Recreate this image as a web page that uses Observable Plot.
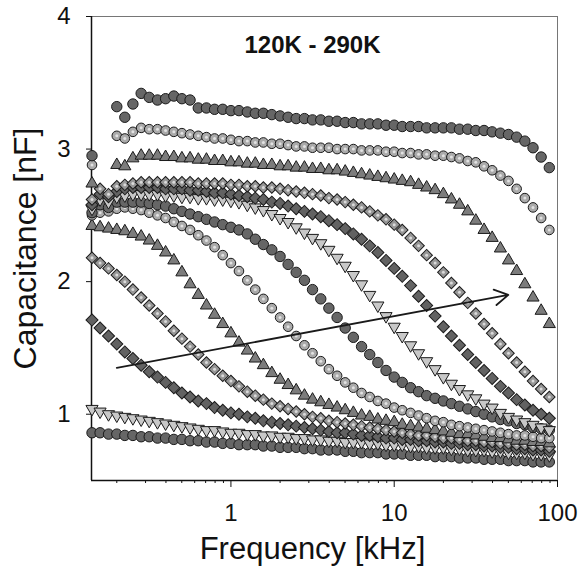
<!DOCTYPE html>
<html><head><meta charset="utf-8">
<script src="https://cdn.jsdelivr.net/npm/d3@7"></script>
<script src="https://cdn.jsdelivr.net/npm/@observablehq/plot@0.6"></script>
<style>body{margin:0;background:#fff}</style>
</head><body><div id="chart"></div>
<script>
// Frequency points (kHz), shared by all curves
const freq = [0.141,0.158,0.178,0.2,0.224,0.251,0.282,0.316,0.355,0.398,0.447,0.501,0.562,0.631,0.708,0.794,0.891,
  1,1.12,1.26,1.41,1.58,1.78,2,2.24,2.51,2.82,3.16,3.55,3.98,4.47,5.01,5.62,6.31,7.08,7.94,8.91,
  10,11.2,12.6,14.1,15.8,17.8,20,22.4,25.1,28.2,31.6,35.5,39.8,44.7,50.1,56.2,63.1,70.8,79.4,89.1];

// Capacitance (nF) of each curve (highest temperature first)
const capA = [2.95,null,null,3.32,3.24,3.34,3.42,3.39,3.37,3.38, 3.40,3.38,3.37,3.31,3.31,3.30,3.30,3.29,3.29,3.28, 3.27,3.27,3.26,3.25,3.24,3.23,3.23,3.22,3.22,3.21, 3.21,3.20,3.20,3.19,3.19,3.19,3.18,3.18,3.17,3.17, 3.17,3.16,3.16,3.16,3.16,3.15,3.15,3.14,3.14,3.13, 3.12,3.11,3.09,3.06,3.01,2.94,2.86];
const capB = [2.88,null,null,3.10,3.08,3.13,3.16,3.15,3.15,3.14, 3.13,3.12,3.11,3.10,3.09,3.08,3.08,3.07,3.06,3.06, 3.05,3.05,3.04,3.04,3.03,3.02,3.02,3.01,3.01,3.01, 3.00,3.00,3.00,2.99,2.99,2.99,2.98,2.98,2.97,2.97, 2.96,2.96,2.95,2.95,2.94,2.93,2.91,2.90,2.87,2.84, 2.80,2.76,2.70,2.63,2.56,2.48,2.39];
const capC = [2.74,null,null,2.88,2.87,2.93,2.95,2.95,2.95,2.94, 2.94,2.93,2.93,2.92,2.92,2.91,2.91,2.90,2.90,2.89, 2.89,2.88,2.88,2.87,2.87,2.86,2.86,2.85,2.85,2.84, 2.84,2.83,2.82,2.81,2.80,2.79,2.78,2.77,2.76,2.75, 2.73,2.71,2.69,2.66,2.62,2.58,2.53,2.46,2.39,2.33, 2.25,2.16,2.08,1.98,1.88,1.78,1.68];
const capE = [2.62,2.70,2.66,2.72,2.73,2.74,2.75,2.75,2.75,2.75, 2.75,2.75,2.75,2.74,2.74,2.74,2.74,2.73,2.73,2.72, 2.72,2.71,2.71,2.70,2.69,2.68,2.67,2.66,2.65,2.63, 2.62,2.60,2.58,2.56,2.53,2.50,2.47,2.43,2.39,2.33, 2.27,2.20,2.14,2.07,1.99,1.92,1.84,1.76,1.68,1.61, 1.53,1.46,1.39,1.32,1.25,1.19,1.13];
const capF = [2.58,2.66,2.64,2.68,2.70,2.71,2.71,2.71,2.71,2.70, 2.70,2.70,2.69,2.69,2.68,2.67,2.67,2.66,2.65,2.64, 2.63,2.62,2.60,2.59,2.57,2.55,2.53,2.51,2.49,2.46, 2.43,2.40,2.36,2.32,2.27,2.22,2.16,2.10,2.04,1.97, 1.89,1.82,1.74,1.66,1.59,1.52,1.45,1.39,1.33,1.27, 1.21,1.16,1.11,1.07,1.03,1.00,0.97];
const capG = [2.55,2.62,2.60,2.64,2.65,2.66,2.66,2.66,2.66,2.65, 2.65,2.64,2.64,2.63,2.63,2.62,2.62,2.61,2.60,2.58, 2.56,2.54,2.51,2.48,2.45,2.41,2.37,2.33,2.29,2.24, 2.18,2.12,2.05,1.98,1.90,1.82,1.74,1.66,1.59,1.52, 1.46,1.40,1.34,1.28,1.23,1.19,1.15,1.12,1.08,1.05, 1.01,0.98,0.96,0.94,0.92,0.90,0.88];
const capD = [2.52,2.58,2.56,2.60,2.60,2.60,2.60,2.59,2.58,2.57, 2.55,2.53,2.51,2.49,2.47,2.45,2.43,2.41,2.39,2.36, 2.32,2.28,2.24,2.19,2.13,2.07,2.01,1.94,1.87,1.80, 1.73,1.65,1.58,1.51,1.45,1.39,1.33,1.28,1.24,1.20, 1.17,1.14,1.12,1.10,1.08,1.06,1.04,1.02,1.00,0.98, 0.96,0.95,0.93,0.92,0.90,0.89,0.88];
const capH = [2.50,2.52,2.53,2.55,2.56,2.55,2.54,2.52,2.50,2.48, 2.45,2.42,2.39,2.35,2.31,2.26,2.20,2.14,2.08,2.01, 1.94,1.87,1.80,1.73,1.66,1.59,1.52,1.46,1.40,1.34, 1.29,1.24,1.20,1.16,1.13,1.10,1.08,1.05,1.03,1.01, 0.99,0.97,0.95,0.94,0.92,0.91,0.90,0.89,0.88,0.87, 0.86,0.85,0.84,0.84,0.83,0.82,0.82];
const capI = [2.42,2.41,2.40,2.39,2.38,2.36,2.34,2.31,2.27,2.22, 2.16,2.07,1.98,1.90,1.82,1.75,1.68,1.61,1.54,1.48, 1.42,1.37,1.31,1.26,1.22,1.18,1.14,1.11,1.09,1.07, 1.05,1.03,1.01,0.99,0.98,0.96,0.95,0.94,0.92,0.91, 0.90,0.89,0.88,0.87,0.86,0.85,0.85,0.84,0.83,0.82, 0.82,0.81,0.80,0.80,0.79,0.79,0.78];
const capJ = [2.18,2.14,2.10,2.05,2.00,1.94,1.88,1.82,1.76,1.70, 1.63,1.57,1.51,1.45,1.39,1.34,1.29,1.25,1.21,1.17, 1.14,1.11,1.08,1.06,1.04,1.02,1.00,0.98,0.97,0.95, 0.94,0.93,0.92,0.91,0.90,0.89,0.88,0.87,0.86,0.85, 0.84,0.84,0.83,0.82,0.82,0.81,0.80,0.80,0.79,0.79, 0.78,0.78,0.77,0.77,0.76,0.76,0.75];
const capK = [1.71,1.65,1.59,1.53,1.47,1.42,1.37,1.32,1.28,1.24, 1.20,1.16,1.13,1.10,1.08,1.05,1.03,1.01,1.00,0.98, 0.97,0.95,0.94,0.93,0.92,0.91,0.90,0.89,0.88,0.87, 0.86,0.86,0.85,0.84,0.84,0.83,0.82,0.82,0.81,0.81, 0.80,0.80,0.79,0.79,0.78,0.78,0.77,0.77,0.76,0.76, 0.75,0.75,0.74,0.74,0.73,0.73,0.72];
const capL = [1.04,1.02,1.00,0.99,0.98,0.97,0.96,0.95,0.94,0.93, 0.92,0.91,0.90,0.89,0.88,0.88,0.87,0.86,0.86,0.85, 0.85,0.84,0.84,0.83,0.83,0.82,0.82,0.81,0.81,0.80, 0.80,0.79,0.79,0.79,0.78,0.78,0.77,0.77,0.77,0.76, 0.76,0.75,0.75,0.75,0.74,0.74,0.73,0.73,0.73,0.72, 0.72,0.71,0.71,0.71,0.70,0.70,0.69];
const capM = [0.86,0.86,0.85,0.85,0.84,0.84,0.83,0.83,0.82,0.82, 0.81,0.81,0.80,0.80,0.79,0.79,0.78,0.78,0.77,0.77, 0.77,0.76,0.76,0.75,0.75,0.75,0.74,0.74,0.73,0.73, 0.73,0.72,0.72,0.71,0.71,0.71,0.70,0.70,0.70,0.69, 0.69,0.69,0.68,0.68,0.68,0.67,0.67,0.67,0.66,0.66, 0.66,0.65,0.65,0.65,0.64,0.64,0.64];

// Text and ticks
const titleText = "120K - 290K";
const xLabel = "Frequency [kHz]";
const yLabel = "Capacitance [nF]";
const xMajorTicks = [1, 10, 100];
const xMinorTicks = [0.2,0.3,0.4,0.5,0.6,0.7,0.8,0.9,2,3,4,5,6,7,8,9,20,30,40,50,60,70,80,90];
const yTicks = [1, 2, 3, 4];
const arrowData = [{x1: 0.2, y1: 1.35, x2: 50, y2: 1.9}];

// Marker styles
const styles = {
  darkCircle:   {symbol: "circle",   r: 5.2, fill: "#666666"},
  patCircle:    {symbol: "circle",   r: 4.8, fill: "#aaaaaa", inner: "#e2e2e2"},
  triangleUp:   {symbol: "triangle", r: 4.5, fill: "#7c7c7c", rotate: 0},
  triangleDown: {symbol: "triangle", r: 4.5, fill: "#c8c8c8", rotate: 180},
  darkDiamond:  {symbol: "square",   r: 4.8, fill: "#626262", rotate: 45},
  patDiamond:   {symbol: "square",   r: 4.6, fill: "#969696", rotate: 45, inner: "#dadada"}
};

const seriesList = [
  {values: capM, style: "darkCircle"},
  {values: capL, style: "triangleDown"},
  {values: capK, style: "darkDiamond"},
  {values: capJ, style: "patDiamond"},
  {values: capI, style: "triangleUp"},
  {values: capH, style: "patCircle"},
  {values: capD, style: "darkCircle"},
  {values: capG, style: "triangleDown"},
  {values: capF, style: "darkDiamond"},
  {values: capE, style: "patDiamond"},
  {values: capC, style: "triangleUp"},
  {values: capB, style: "patCircle"},
  {values: capA, style: "darkCircle"}
];

const marks = [];
for (const s of seriesList) {
  const st = styles[s.style];
  const pts = s.values.map((c, i) => ({f: freq[i], c})).filter(d => d.c != null);
  marks.push(Plot.dot(pts, {x: "f", y: "c", symbol: st.symbol, r: st.r, fill: st.fill,
    stroke: "#1a1a1a", strokeWidth: 1, rotate: st.rotate || 0}));
  if (st.inner) marks.push(Plot.dot(pts, {x: "f", y: "c", r: 1.5, fill: st.inner}));
}

const chart = Plot.plot({
  width: 580, height: 571,
  marginLeft: 91, marginRight: 23, marginTop: 16, marginBottom: 91,
  style: {fontFamily: "'Liberation Sans', Arial, sans-serif", fontSize: "24px", color: "#111", background: "#fff"},
  x: {type: "log", domain: [0.14, 100], label: null},
  y: {domain: [0.5, 4], label: null},
  marks: [
    Plot.frame({stroke: "#555", strokeWidth: 0.8}),
    Plot.ruleX([0.14], {stroke: "#111", strokeWidth: 1.5}),
    Plot.ruleY([0.5], {stroke: "#111", strokeWidth: 1.5}),
    Plot.axisX(xMinorTicks, {tickSize: 3, tickFormat: () => "", label: null}),
    Plot.axisX(xMajorTicks, {tickSize: 7, tickPadding: 16, tickFormat: d => String(d), label: null}),
    Plot.axisY(yTicks, {tickSize: 5, tickPadding: 16, tickFormat: d => String(d), label: null}),
    ...marks,
    Plot.arrow(arrowData, {x1: "x1", y1: "y1", x2: "x2", y2: "y2", stroke: "#1a1a1a", strokeWidth: 1.8, headLength: 13}),
    Plot.text([titleText], {text: d => d, frameAnchor: "top", lineAnchor: "middle", textAnchor: "middle", dx: -12, dy: 29, fontSize: 24, fontWeight: "bold"}),
    Plot.text([xLabel], {text: d => d, frameAnchor: "bottom", lineAnchor: "middle", textAnchor: "middle", dx: -12, dy: 69, fontSize: 31}),
    Plot.text([yLabel], {text: d => d, frameAnchor: "left", lineAnchor: "middle", textAnchor: "middle", dx: -66, rotate: -90, fontSize: 32})
  ]
});
document.getElementById("chart").append(chart);
</script>
</body></html>
